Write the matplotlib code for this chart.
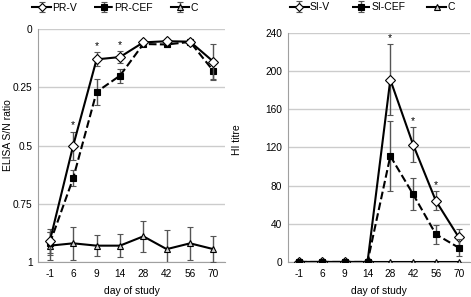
import matplotlib.pyplot as plt
import numpy as np

plt.rcParams['font.family'] = ['Liberation Sans', 'DejaVu Sans']

days = ['-1', '6', '9', '14', '28', '42', '56', '70']

# ELISA S/N ratio (left)
pr_v = [0.91, 0.50, 0.13, 0.12, 0.057, 0.052, 0.054, 0.14]
pr_v_err = [0.05, 0.06, 0.03, 0.026, 0.01, 0.01, 0.01, 0.075]
pr_cef = [0.92, 0.64, 0.27, 0.20, 0.064, 0.066, 0.055, 0.18]
pr_cef_err = [0.05, 0.034, 0.057, 0.03, 0.01, 0.01, 0.01, 0.039]
c_elisa = [0.93, 0.92, 0.93, 0.93, 0.89, 0.945, 0.92, 0.945]
c_elisa_err = [0.06, 0.07, 0.045, 0.05, 0.067, 0.082, 0.07, 0.057]
elisa_stars = ['6', '9', '14']

# HI titre (right)
si_v = [0, 0, 0, 0, 191, 123, 64, 26]
si_v_err = [0, 0, 0, 0, 37, 18, 10, 9]
si_cef = [0, 0, 0, 0, 111, 71, 29, 15]
si_cef_err = [0, 0, 0, 0, 37, 17, 10, 9]
c_hi = [0, 0, 0, 0, 0, 0, 0, 0]
hi_stars = ['28', '42', '56']

fig = plt.figure(figsize=(4.71, 2.97), dpi=100)
ax1 = fig.add_axes([0.081, 0.118, 0.397, 0.784])
ax2 = fig.add_axes([0.611, 0.118, 0.387, 0.771])

x = np.arange(len(days))
ERR = '#555555'
FS = 7.5
TFS = 7.3


def draw_series(ax, y, err, ls, marker, mfc, label, ms, z):
    ax.errorbar(x, y, yerr=err, color='black', ls=ls, lw=1.5, marker=marker,
                mfc=mfc, mec='black', mew=0.8, ms=ms, ecolor=ERR,
                elinewidth=1, capsize=2.5, capthick=1, label=label, zorder=z)


def style(ax):
    ax.set_xlim(-0.5, len(days) - 0.5)
    ax.set_xticks(x)
    ax.set_xticklabels(days, fontsize=TFS)
    ax.tick_params(axis='y', labelsize=TFS, length=0, pad=4)
    ax.tick_params(axis='x', length=0, pad=5)
    ax.grid(axis='y', color='#cccccc', lw=1)
    ax.set_axisbelow(True)
    for s in ['top', 'right']:
        ax.spines[s].set_visible(False)
    for s in ['left', 'bottom']:
        ax.spines[s].set_color('#a0a0a0')
    ax.set_xlabel('day of study', fontsize=FS, labelpad=5)


def legend(ax, bx, by, colsp):
    handles, labels = ax.get_legend_handles_labels()
    order = [labels.index(l) for l in sorted(labels, key=lambda s: (s == 'C', len(s)))]
    ax.legend([handles[i] for i in order], [labels[i] for i in order],
              loc='center left', bbox_to_anchor=(bx, by), ncol=3,
              frameon=False, fontsize=FS, handlelength=1.8, columnspacing=colsp,
              handletextpad=0.1, borderaxespad=0, borderpad=0, markerscale=0.8)


# left panel
draw_series(ax1, c_elisa, c_elisa_err, '-', '^', '#d0d0d0', 'C', 5, 3)
draw_series(ax1, pr_cef, pr_cef_err, '--', 's', 'black', 'PR-CEF', 5, 4)
draw_series(ax1, pr_v, pr_v_err, '-', 'D', 'white', 'PR-V', 5, 5)
ax1.set_ylim(1, 0)
ax1.set_yticks([0, 0.25, 0.5, 0.75, 1])
ax1.set_yticklabels(['0', '0.25', '0.5', '0.75', '1'])
style(ax1)
ax1.set_ylabel('ELISA S/N ratio', fontsize=FS)
ax1.yaxis.set_label_coords(-0.134, 0.543)
for d in elisa_stars:
    i = days.index(d)
    top = pr_v[i] - pr_v_err[i]
    ax1.annotate('*', (i, top), xytext=(0, 1), textcoords='offset points',
                 ha='center', va='bottom', fontsize=FS)
legend(ax1, -0.032, 1.092, 1.7)

# right panel
draw_series(ax2, c_hi, None, '-', '^', '#d0d0d0', 'C', 5, 3)
draw_series(ax2, si_v, si_v_err, '-', 'D', 'white', 'SI-V', 5, 4)
draw_series(ax2, si_cef, si_cef_err, '--', 's', 'black', 'SI-CEF', 5, 5)
ax2.set_ylim(0, 240)
ax2.set_yticks(range(0, 241, 40))
style(ax2)
ax2.set_ylabel('HI titre', fontsize=FS)
ax2.yaxis.set_label_coords(-0.253, 0.533)
for d in hi_stars:
    i = days.index(d)
    top = si_v[i] + si_v_err[i]
    ax2.annotate('*', (i, top), xytext=(0, 1), textcoords='offset points',
                 ha='center', va='bottom', fontsize=FS)
legend(ax2, 0.011, 1.112, 2.1)

fig.savefig('out.png', dpi=100)
